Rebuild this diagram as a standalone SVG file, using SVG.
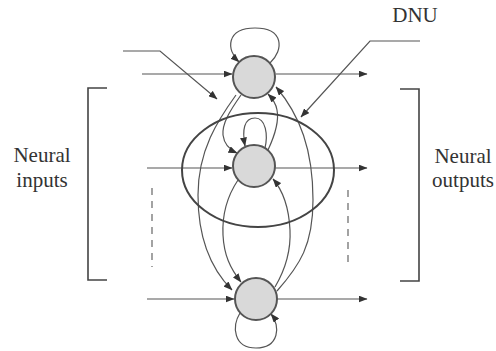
<svg xmlns="http://www.w3.org/2000/svg" width="496" height="351" viewBox="0 0 496 351">
<style>
.ln{fill:none;stroke:#555;stroke-width:1.2}
.arr{marker-end:url(#ah)}
.node{fill:#d9d9d9;stroke:#555;stroke-width:2}
.txt{font-family:"Liberation Serif","Times New Roman",serif;font-size:21px;fill:#333}
.brk{fill:none;stroke:#444;stroke-width:1.6}
.dash{fill:none;stroke:#666;stroke-width:1.2;stroke-dasharray:7 6}
</style>
<defs>
<marker id="ah" markerUnits="userSpaceOnUse" markerWidth="9" markerHeight="7" refX="8.5" refY="3.5" orient="auto">
<path d="M0,0 L9,3.5 L0,7 z" fill="#333"/>
</marker>
</defs>
<rect width="496" height="351" fill="#fff"/>
<g id="connectors">
<path class="ln arr" d="M142,74 L232,74"/>
<path class="ln arr" d="M123,51 L160,51 L217,99"/>
<path class="ln arr" d="M276,74 L367,74"/>
<path class="ln arr" d="M147,168 L232,168"/>
<path class="ln arr" d="M275,168 L367,168"/>
<path class="ln arr" d="M147,299 L234,299"/>
<path class="ln arr" d="M277,299 L367,299"/>
<path class="ln arr" d="M270,63 C284,50 284,28 255,28 C226,28 226,50 239,62"/>
<path class="ln arr" d="M265,148 C268,135 266,118 255,118 C244,118 242,130 245,146"/>
<path class="ln arr" d="M240,313 C232,326 233,348 256,348 C279,348 281,326 271,314"/>
<path class="ln arr" d="M236,95 C218,120 198,150 198,195 C198,240 212,270 232,290"/>
<path class="ln arr" d="M241,95 C229,112 222,124 223,135 C224,143 228,149 237,153"/>
<path class="ln arr" d="M238,180 C228,195 222,215 223,235 C224,255 230,268 241,282"/>
<path class="ln arr" d="M277,291 C300,265 313,245 313,200 C313,150 300,115 276,87"/>
<path class="ln arr" d="M275,287 C285,270 291,250 290,230 C289,210 285,193 273,179"/>
<path class="ln arr" d="M268,150 C275,135 279,120 277,110 C276,104 273,99 268,94"/>
<path class="ln arr" d="M420,41 L370,41 L301,117"/>
</g>
<g id="dnu">
<ellipse cx="258" cy="170" rx="76" ry="57" fill="none" stroke="#444" stroke-width="2"/>
<text class="txt" x="415" y="22" text-anchor="middle">DNU</text>
</g>
<g id="n1"><circle class="node" cx="254" cy="77" r="21"/></g>
<g id="n2"><circle class="node" cx="254" cy="166" r="21"/></g>
<g id="n3"><circle class="node" cx="256" cy="299" r="21"/></g>
<g id="inputs">
<path class="brk" d="M107,88 H88 V280 H107"/>
<path class="dash" d="M152,188 V267"/>
<text class="txt" x="42" y="162" text-anchor="middle">Neural</text>
<text class="txt" x="42" y="187" text-anchor="middle">inputs</text>
</g>
<g id="outputs">
<path class="brk" d="M400,89 H419 V281 H400"/>
<path class="dash" d="M348,190 V267"/>
<text class="txt" x="463" y="163" text-anchor="middle">Neural</text>
<text class="txt" x="463" y="187" text-anchor="middle">outputs</text>
</g>
</svg>
